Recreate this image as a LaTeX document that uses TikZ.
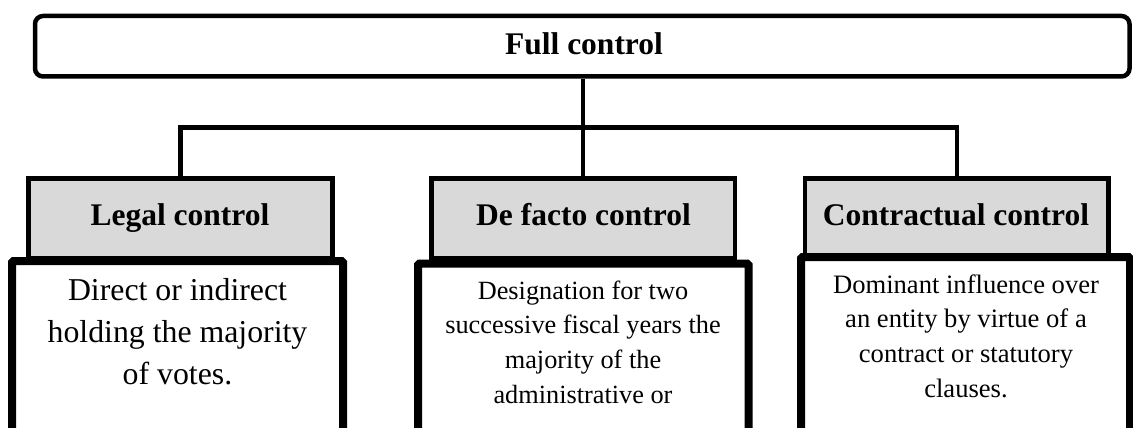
\documentclass[tikz,border=0pt]{standalone}
\usepackage{fontspec}
\setmainfont{Liberation Serif}
\definecolor{headgray}{HTML}{D9D9D9}
\begin{document}
\begin{tikzpicture}[x=1pt,y=-1pt,
  topbox/.style={draw=black, line width=4.5pt, rounded corners=8pt, fill=white, inner sep=0pt, minimum width=1094.5pt, minimum height=60.5pt},
  headbox/.style={draw=black, line width=4.5pt, fill=headgray, inner sep=0pt, minimum height=80pt, anchor=north},
  bodybox/.style={draw=black, line width=8pt, rounded corners=1.5pt, fill=white, inner sep=0pt, minimum height=175pt, anchor=north},
  conn/.style={draw=black, line width=4.5pt},
  headtext/.style={inner sep=0pt, anchor=base, font=\fontsize{31.5}{36}\selectfont\bfseries},
  bodytext/.style={inner sep=0pt, anchor=base}
]
\useasboundingbox (0,0) rectangle (1133,428);
% top box
\node[topbox] (top) at (582.25,46.25) {};
\node[headtext] (toptext) at (584,55) {Full control};
% header boxes
\node[headbox, minimum width=304pt] (g1) at (180.5,176) {};
\node[headbox, minimum width=303.5pt] (g2) at (583,176) {};
\node[headbox, minimum width=303.5pt] (g3) at (956.75,176) {};
% connectors
\coordinate (hc) at (583,127.5);
\draw[conn] (g2.north |- top.south) -- (g2.north);
\draw[conn] (g1.north) |- (hc) -| (g3.north);
% body boxes
\node[bodybox, minimum width=331pt] (b1) at (177.5,257) {};
\node[bodybox, minimum width=330.5pt] (b2) at (583.25,259.5) {};
\node[bodybox, minimum width=329pt] (b3) at (965.5,253) {};
% header texts
\node[headtext] (h1) at (180,225) {Legal control};
\node[headtext] (h2) at (583.5,225) {De facto control};
\node[headtext] (h3) at (956,225) {Contractual control};
% body texts
\node[bodytext] (t1) at (177.5,300) {\parbox[t]{320pt}{\centering\fontsize{31.8}{42}\selectfont Direct or indirect\\holding the majority\\of votes.}};
\node[bodytext] (t2) at (583,299) {\parbox[t]{320pt}{\centering\fontsize{26.3}{34.7}\selectfont Designation for two\\successive fiscal years the\\majority of the\\administrative or}};
\node[bodytext] (t3) at (966,293) {\parbox[t]{320pt}{\centering\fontsize{26.6}{34.7}\selectfont Dominant influence over\\an entity by virtue of a\\contract or statutory\\clauses.}};
\end{tikzpicture}
\end{document}
